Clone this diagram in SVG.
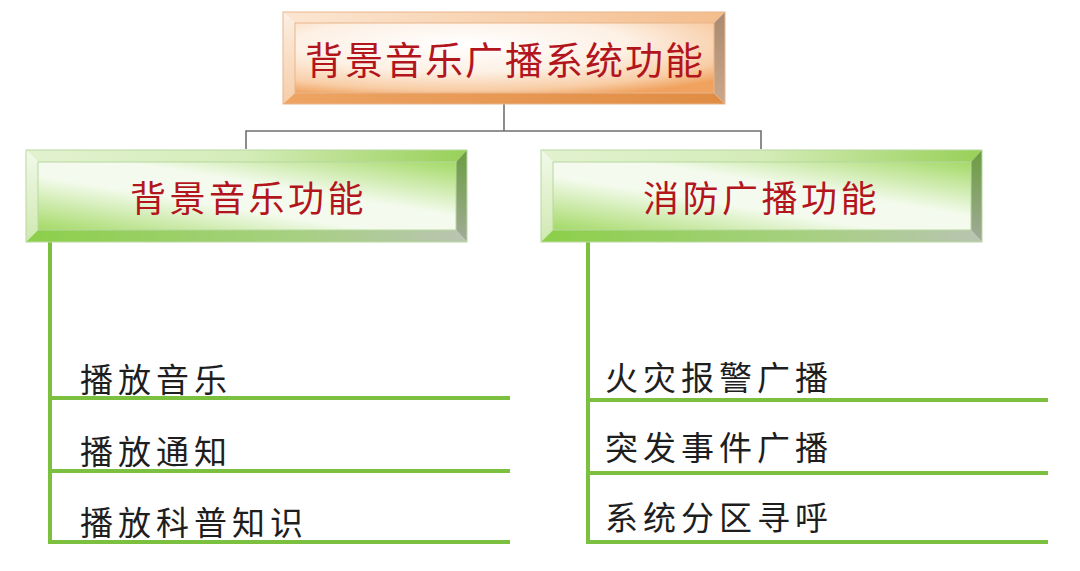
<svg xmlns="http://www.w3.org/2000/svg" width="1080" height="571" viewBox="0 0 1080 571">
<defs>
<style>
.hdr{font-family:"Noto Sans CJK SC","Noto Sans",sans-serif;fill:#b3151d}
.item{font-family:"Noto Sans CJK SC","Noto Sans",sans-serif;fill:#1e1e1e;font-size:33px;letter-spacing:5px}
.conn{fill:none;stroke:#707070;stroke-width:1.6}
.gl{fill:none;stroke:#7cc040;stroke-width:4;stroke-linecap:square}
.edgeO{fill:none;stroke:#e9b58c;stroke-width:1}
.edgeG{fill:none;stroke:#b8d8a0;stroke-width:1}
</style>
<radialGradient id="oFace" cx="0.4" cy="0.3" r="0.8">
<stop offset="0" stop-color="#ffffff"/>
<stop offset="0.5" stop-color="#fdf0e4"/>
<stop offset="0.82" stop-color="#f8cda6"/>
<stop offset="1" stop-color="#f0a25e"/>
</radialGradient>
<linearGradient id="oTop" x1="0" y1="0" x2="1" y2="0">
<stop offset="0" stop-color="#fbe6d2"/><stop offset="1" stop-color="#f4bd8c"/>
</linearGradient>
<linearGradient id="oLeft" x1="0" y1="0" x2="0" y2="1">
<stop offset="0" stop-color="#fcefe3"/><stop offset="1" stop-color="#f6cda8"/>
</linearGradient>
<linearGradient id="oBot" x1="0" y1="0" x2="1" y2="0">
<stop offset="0" stop-color="#eea463"/><stop offset="1" stop-color="#e08c44"/>
</linearGradient>
<linearGradient id="oRight" x1="0" y1="0" x2="0" y2="1">
<stop offset="0" stop-color="#a98a70"/><stop offset="1" stop-color="#cba88a"/>
</linearGradient>
<linearGradient id="gFace" x1="1" y1="0" x2="0" y2="1">
<stop offset="0" stop-color="#a4d966"/>
<stop offset="0.4" stop-color="#f4fbee"/>
<stop offset="0.6" stop-color="#f4fbee"/>
<stop offset="1" stop-color="#a4d966"/>
</linearGradient>
<linearGradient id="gTop" x1="0" y1="0" x2="1" y2="0">
<stop offset="0" stop-color="#e2f2d0"/><stop offset="0.5" stop-color="#d4ecb8"/><stop offset="1" stop-color="#98d058"/>
</linearGradient>
<linearGradient id="gLeft" x1="0" y1="0" x2="0" y2="1">
<stop offset="0" stop-color="#f2f9ea"/><stop offset="1" stop-color="#cfe9b0"/>
</linearGradient>
<linearGradient id="gBot" x1="0" y1="0" x2="1" y2="0">
<stop offset="0" stop-color="#8ccf4a"/><stop offset="0.6" stop-color="#a6d080"/><stop offset="1" stop-color="#b9c4b2"/>
</linearGradient>
<linearGradient id="gRight" x1="0" y1="0" x2="0" y2="1">
<stop offset="0" stop-color="#6c9c40"/><stop offset="1" stop-color="#a2ab9a"/>
</linearGradient>
</defs>
<rect width="1080" height="571" fill="#ffffff"/>

<g id="connectors">
<path class="conn" d="M504,104 V131"/>
<path class="conn" d="M246,149 V131 H761 V149"/>
<path class="gl" d="M50,243 V542 H508"/>
<path class="gl" d="M50,398 H508"/>
<path class="gl" d="M50,471 H508"/>
<path class="gl" d="M588,243 V542 H1046"/>
<path class="gl" d="M588,400 H1046"/>
<path class="gl" d="M588,473 H1046"/>
</g>

<g id="root">
<polygon points="283,12 725,12 714,23 295,23" fill="url(#oTop)"/>
<polygon points="283,12 295,23 295,93 283,104" fill="url(#oLeft)"/>
<polygon points="283,104 295,93 714,93 725,104" fill="url(#oBot)"/>
<polygon points="725,12 725,104 714,93 714,23" fill="url(#oRight)"/>
<rect x="295" y="23" width="419" height="70" fill="url(#oFace)"/>
<rect class="edgeO" x="283" y="12" width="442" height="92"/>
<rect class="edgeO" x="295" y="23" width="419" height="70"/>
<text class="hdr" x="305" y="74" font-size="38" letter-spacing="2">背景音乐广播系统功能</text>
</g>

<g id="bgm">
<polygon points="26,150 467,150 456,162 38,162" fill="url(#gTop)"/>
<polygon points="26,150 38,162 38,230 26,242" fill="url(#gLeft)"/>
<polygon points="26,242 38,230 456,230 467,242" fill="url(#gBot)"/>
<polygon points="467,150 467,242 456,230 456,162" fill="url(#gRight)"/>
<rect x="38" y="162" width="418" height="68" fill="url(#gFace)"/>
<rect class="edgeG" x="26" y="150" width="441" height="92"/>
<rect class="edgeG" x="38" y="162" width="418" height="68"/>
<text class="hdr" x="130" y="212" font-size="36" letter-spacing="3.5">背景音乐功能</text>
</g>

<g id="fire">
<polygon points="541,150 982,150 971,162 553,162" fill="url(#gTop)"/>
<polygon points="541,150 553,162 553,230 541,242" fill="url(#gLeft)"/>
<polygon points="541,242 553,230 971,230 982,242" fill="url(#gBot)"/>
<polygon points="982,150 982,242 971,230 971,162" fill="url(#gRight)"/>
<rect x="553" y="162" width="418" height="68" fill="url(#gFace)"/>
<rect class="edgeG" x="541" y="150" width="441" height="92"/>
<rect class="edgeG" x="553" y="162" width="418" height="68"/>
<text class="hdr" x="643" y="212" font-size="36" letter-spacing="3.5">消防广播功能</text>
</g>

<g id="bgm-items">
<text class="item" x="80" y="392">播放音乐</text>
<text class="item" x="80" y="464">播放通知</text>
<text class="item" x="80" y="535">播放科普知识</text>
</g>

<g id="fire-items">
<text class="item" x="605" y="390">火灾报警广播</text>
<text class="item" x="605" y="460">突发事件广播</text>
<text class="item" x="605" y="530">系统分区寻呼</text>
</g>
</svg>
